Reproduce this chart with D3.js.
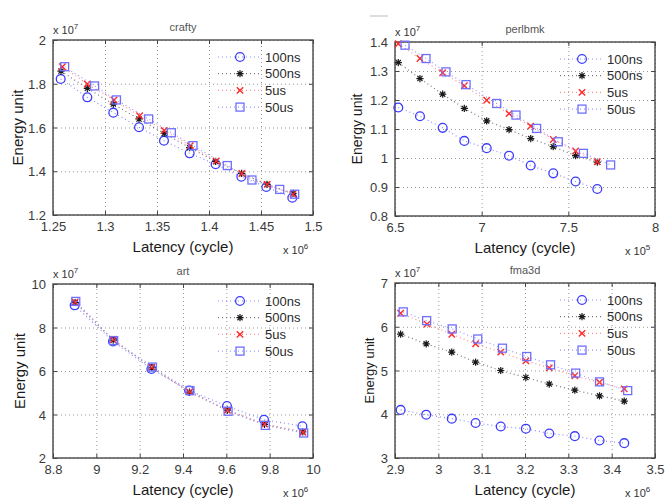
<!DOCTYPE html>
<html>
<head>
<meta charset="utf-8">
<script src="https://cdn.jsdelivr.net/npm/d3@7/dist/d3.min.js"></script>
<style>
  body { margin: 0; background: #fff; }
  svg { font-family: "Liberation Sans", Arial, sans-serif; }
</style>
</head>
<body>
<svg id="chart" width="665" height="498"></svg>
<script>
// series names (legend order)
const seriesNames = ['100ns', '500ns', '5us', '50us'];

// crafty: latency x10^6, energy x10^7
const craftyX = [
  [1.2574, 1.2830, 1.3080, 1.3327, 1.3567, 1.3814, 1.4064, 1.4311, 1.4551, 1.4801],
  [1.2577, 1.2830, 1.3080, 1.3327, 1.3570, 1.3814, 1.4064, 1.4314, 1.4558, 1.4808],
  [1.2590, 1.2830, 1.3087, 1.3333, 1.3570, 1.3820, 1.4070, 1.4317, 1.4560, 1.4807],
  [1.2612, 1.2900, 1.3110, 1.3420, 1.3638, 1.3846, 1.4176, 1.4413, 1.4680, 1.4824]
];
const craftyY = [
  [1.822, 1.738, 1.668, 1.601, 1.540, 1.482, 1.432, 1.375, 1.328, 1.279],
  [1.858, 1.779, 1.707, 1.639, 1.573, 1.508, 1.445, 1.390, 1.340, 1.299],
  [1.878, 1.799, 1.726, 1.654, 1.586, 1.517, 1.447, 1.390, 1.340, 1.295],
  [1.878, 1.790, 1.726, 1.639, 1.576, 1.517, 1.426, 1.360, 1.317, 1.295]
];

// perlbmk: latency x10^5, energy x10^7
const perlX = [
  [6.519, 6.644, 6.775, 6.900, 7.029, 7.158, 7.283, 7.413, 7.542, 7.667],
  [6.519, 6.644, 6.775, 6.900, 7.029, 7.158, 7.283, 7.413, 7.542, 7.667],
  [6.519, 6.644, 6.775, 6.900, 7.029, 7.158, 7.283, 7.413, 7.542, 7.667],
  [6.558, 6.679, 6.794, 6.910, 7.087, 7.198, 7.317, 7.442, 7.587, 7.744]
];
const perlY = [
  [1.174, 1.144, 1.104, 1.059, 1.034, 1.008, 0.974, 0.947, 0.919, 0.893],
  [1.329, 1.274, 1.220, 1.171, 1.128, 1.098, 1.067, 1.039, 1.008, 0.986],
  [1.394, 1.343, 1.294, 1.249, 1.199, 1.153, 1.110, 1.064, 1.024, 0.987],
  [1.389, 1.343, 1.297, 1.253, 1.188, 1.148, 1.102, 1.056, 1.016, 0.976]
];

// art: latency x10^6, energy x10^7
const artX = [
  [8.900, 9.077, 9.254, 9.428, 9.603, 9.774, 9.951],
  [8.902, 9.078, 9.256, 9.430, 9.605, 9.776, 9.953],
  [8.902, 9.078, 9.256, 9.430, 9.605, 9.777, 9.954],
  [8.905, 9.080, 9.259, 9.432, 9.608, 9.780, 9.957]
];
const artY = [
  [9.02, 7.36, 6.09, 5.10, 4.39, 3.76, 3.46],
  [9.15, 7.42, 6.15, 5.03, 4.20, 3.55, 3.20],
  [9.17, 7.44, 6.18, 5.04, 4.19, 3.56, 3.18],
  [9.20, 7.40, 6.18, 5.10, 4.15, 3.50, 3.15]
];

// fma3d: latency x10^6, energy x10^7
const fmaX = [
  [2.913, 2.972, 3.031, 3.086, 3.144, 3.202, 3.256, 3.315, 3.372, 3.429],
  [2.913, 2.972, 3.031, 3.086, 3.144, 3.202, 3.256, 3.315, 3.372, 3.429],
  [2.913, 2.974, 3.031, 3.086, 3.144, 3.202, 3.256, 3.315, 3.372, 3.429],
  [2.919, 2.973, 3.032, 3.091, 3.148, 3.204, 3.259, 3.317, 3.372, 3.437]
];
const fmaY = [
  [4.10, 3.99, 3.90, 3.80, 3.72, 3.67, 3.56, 3.50, 3.40, 3.34],
  [5.83, 5.61, 5.42, 5.19, 5.00, 4.84, 4.69, 4.55, 4.42, 4.30],
  [6.31, 6.06, 5.83, 5.61, 5.42, 5.22, 5.06, 4.88, 4.73, 4.58],
  [6.34, 6.14, 5.95, 5.72, 5.51, 5.32, 5.13, 4.94, 4.74, 4.54]
];

// tick values
const craftyXTicks = [1.25, 1.3, 1.35, 1.4, 1.45, 1.5];
const craftyYTicks = [1.2, 1.4, 1.6, 1.8, 2];
const perlXTicks = [6.5, 7, 7.5, 8];
const perlYTicks = [0.8, 0.9, 1, 1.1, 1.2, 1.3, 1.4];
const artXTicks = [8.8, 9, 9.2, 9.4, 9.6, 9.8, 10];
const artYTicks = [2, 4, 6, 8, 10];
const fmaXTicks = [2.9, 3, 3.1, 3.2, 3.3, 3.4, 3.5];
const fmaYTicks = [3, 4, 5, 6, 7];

const colors = ['#3b3bff', '#1a1a1a', '#ff2a2a', '#6f6fff'];
const lineColors = ['#8c8cff', '#777', '#ff8c8c', '#9a9aff'];

const svg = d3.select('#chart');

// ========= one panel =========
function panel(p) {
  const w = p.right - p.left, h = p.bottom - p.top;
  const x = d3.scaleLinear().domain([p.xTicks[0], p.xTicks[p.xTicks.length - 1]]).range([0, w]);
  const y = d3.scaleLinear().domain([p.yTicks[0], p.yTicks[p.yTicks.length - 1]]).range([h, 0]);
  const g = svg.append('g').attr('transform', `translate(${p.left},${p.top})`);

  // grid
  g.append('g').attr('transform', `translate(0,${h})`)
    .call(d3.axisBottom(x).tickValues(p.xTicks).tickSize(-h).tickFormat(''))
    .call(a => a.select('.domain').remove())
    .selectAll('line').attr('stroke', '#999').attr('stroke-dasharray', '1,3');
  g.append('g')
    .call(d3.axisLeft(y).tickValues(p.yTicks).tickSize(-w).tickFormat(''))
    .call(a => a.select('.domain').remove())
    .selectAll('line').attr('stroke', '#999').attr('stroke-dasharray', '1,3');

  // axes with inward ticks
  const xa = g.append('g').attr('transform', `translate(0,${h})`)
    .call(d3.axisBottom(x).tickValues(p.xTicks).tickSizeInner(-4).tickSizeOuter(0).tickPadding(8).tickFormat(d3.format('~g')));
  const ya = g.append('g')
    .call(d3.axisLeft(y).tickValues(p.yTicks).tickSizeInner(-4).tickSizeOuter(0).tickPadding(7).tickFormat(d3.format('~g')));
  g.append('g').call(d3.axisTop(x).tickValues(p.xTicks).tickSizeInner(-4).tickSizeOuter(0).tickFormat(''));
  g.append('g').attr('transform', `translate(${w},0)`)
    .call(d3.axisRight(y).tickValues(p.yTicks).tickSizeInner(-4).tickSizeOuter(0).tickFormat(''));
  [xa, ya].forEach(a => a.selectAll('text').attr('font-size', 13).attr('fill', '#3a3a3a')
    .attr('font-family', '"Liberation Sans", Arial, sans-serif'));
  xa.selectAll('text').attr('dy', '0.6em');
  ya.selectAll('text').attr('dy', '0.35em');
  g.selectAll('.tick line').filter(function () { return !this.getAttribute('stroke-dasharray'); }).attr('stroke', '#444');
  g.selectAll('.domain').remove();

  g.append('rect').attr('width', w).attr('height', h)
    .attr('fill', 'none').attr('stroke', '#484848').attr('stroke-width', 1.4);

  // series
  const line = d3.line().x(d => x(d[0])).y(d => y(d[1]));
  p.xs.forEach((xs, i) => {
    const pts = xs.map((v, j) => [v, p.ys[i][j]]);
    g.append('path').datum(pts).attr('d', line)
      .attr('fill', 'none').attr('stroke', lineColors[i]).attr('stroke-width', 1.2)
      .attr('stroke-dasharray', '1,3');
    pts.forEach(d => marker(g, i, x(d[0]), y(d[1])));
  });

  // legend
  seriesNames.forEach((s, i) => {
    const ly = 17 + i * 16.7, mx = w - 73;
    g.append('line').attr('x1', mx - 22).attr('x2', mx + 20).attr('y1', ly).attr('y2', ly)
      .attr('stroke', lineColors[i]).attr('stroke-width', 1.2).attr('stroke-dasharray', '1,3');
    marker(g, i, mx, ly);
    g.append('text').attr('x', w - 48).attr('y', ly).attr('dy', '0.36em')
      .attr('font-size', 13).attr('fill', '#2a2a2a').text(s);
  });

  // texts
  g.append('text').attr('x', w / 2).attr('y', -9).attr('text-anchor', 'middle')
    .attr('font-size', 11).attr('fill', '#555').text(p.title);
  const e1 = g.append('text').attr('x', 0).attr('y', -6).attr('font-size', 11).attr('fill', '#333');
  e1.append('tspan').text('x 10');
  e1.append('tspan').attr('dy', -5).attr('font-size', 8).text('7');
  g.append('text').attr('x', w / 2).attr('y', h + 37).attr('text-anchor', 'middle')
    .attr('font-size', 15).attr('fill', '#1a1a1a').text('Latency (cycle)');
  const e2 = g.append('text').attr('x', w - 30).attr('y', h + 39).attr('font-size', 11).attr('fill', '#333');
  e2.append('tspan').text('x 10');
  e2.append('tspan').attr('dy', -5).attr('font-size', 8).text(p.xExp);
  g.append('text').attr('transform', `translate(${p.ylabX - p.left},${h / 2}) rotate(-90)`)
    .attr('text-anchor', 'middle').attr('dy', '0.35em')
    .attr('font-size', p.ylabSize).attr('fill', '#1a1a1a').text('Energy unit');
}

function marker(g, i, cx, cy) {
  const c = colors[i];
  if (i === 0) {
    g.append('circle').attr('cx', cx).attr('cy', cy).attr('r', 4.4)
      .attr('fill', 'none').attr('stroke', c).attr('stroke-width', 1.3);
  } else if (i === 1) {
    const r = 3.6, d = r * 0.72;
    g.append('path').attr('d', `M${cx - r},${cy}H${cx + r}M${cx},${cy - r}V${cy + r}` +
      `M${cx - d},${cy - d}L${cx + d},${cy + d}M${cx - d},${cy + d}L${cx + d},${cy - d}`)
      .attr('stroke', c).attr('stroke-width', 1.2);
  } else if (i === 2) {
    const r = 3.2;
    g.append('path').attr('d', `M${cx - r},${cy - r}L${cx + r},${cy + r}M${cx - r},${cy + r}L${cx + r},${cy - r}`)
      .attr('stroke', c).attr('stroke-width', 1.4);
  } else {
    g.append('rect').attr('x', cx - 4).attr('y', cy - 4).attr('width', 8).attr('height', 8)
      .attr('fill', 'none').attr('stroke', c).attr('stroke-width', 1.3);
  }
}

panel({ title: 'crafty', left: 53, right: 313, top: 40, bottom: 215, xs: craftyX, ys: craftyY,
  xTicks: craftyXTicks, yTicks: craftyYTicks, xExp: '6', ylabX: 18, ylabSize: 15 });
panel({ title: 'perlbmk', left: 395, right: 655, top: 42, bottom: 216, xs: perlX, ys: perlY,
  xTicks: perlXTicks, yTicks: perlYTicks, xExp: '5', ylabX: 357, ylabSize: 14 });
panel({ title: 'art', left: 53, right: 313, top: 284, bottom: 458, xs: artX, ys: artY,
  xTicks: artXTicks, yTicks: artYTicks, xExp: '6', ylabX: 20, ylabSize: 15 });
panel({ title: 'fma3d', left: 395, right: 655, top: 283, bottom: 458, xs: fmaX, ys: fmaY,
  xTicks: fmaXTicks, yTicks: fmaYTicks, xExp: '6', ylabX: 369, ylabSize: 13 });

// small stray mark above perlbmk
svg.append('line').attr('x1', 370).attr('x2', 388).attr('y1', 16).attr('y2', 16)
  .attr('stroke', '#bbb').attr('stroke-width', 1);
</script>
</body>
</html>
